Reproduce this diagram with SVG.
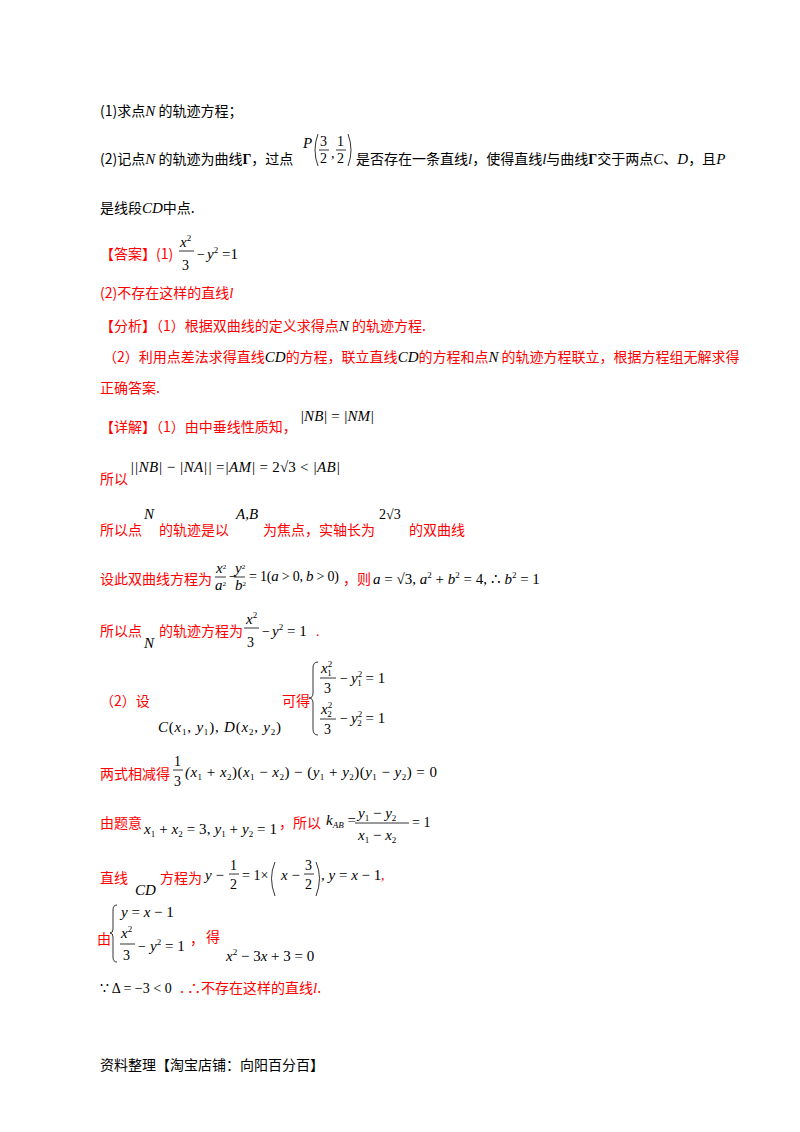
<svg xmlns="http://www.w3.org/2000/svg" width="800" height="1132" viewBox="0 0 800 1132">
<style>
text{font-family:"Liberation Serif","Noto Sans CJK SC",serif;font-size:14px;fill:#000}
.c{font-family:"Noto Sans CJK SC","Liberation Serif",sans-serif;font-size:14px}
.r{fill:#ff0000}
.m{font-family:"Liberation Serif",serif;font-style:italic;font-size:15px}
.n{font-family:"Liberation Serif",serif;font-style:normal}
.s{font-size:9px}
line,path{stroke:#000;stroke-width:0.8;fill:none}
</style>
<rect width="800" height="1132" fill="#fff"/>
<g id="q1"><text x="100" y="116" class="c">(1)求点<tspan class="m">N</tspan> 的轨迹方程；</text></g>
<g id="q2">
<text x="100" y="164" class="c">(2)记点<tspan class="m">N</tspan> 的轨迹为曲线<tspan class="n" font-weight="bold">Γ</tspan>，过点</text>
<text x="303" y="148" class="m">P</text>
<path d="M318 134 Q312 150 318 166"/><path d="M348 134 Q354 150 348 166"/>
<text x="320" y="146" class="n">3</text><line x1="319" y1="150" x2="329" y2="150"/><text x="320" y="163" class="n">2</text>
<text x="331" y="158" class="n">,</text>
<text x="337" y="146" class="n">1</text><line x1="336" y1="150" x2="346" y2="150"/><text x="337" y="163" class="n">2</text>
<text x="356" y="164" class="c">是否存在一条直线<tspan class="m">l</tspan>，使得直线<tspan class="m">l</tspan>与曲线<tspan class="n" font-weight="bold">Γ</tspan>交于两点<tspan class="m">C</tspan>、<tspan class="m">D</tspan>，且<tspan class="m" font-size="12">P</tspan></text>
<text x="100" y="213" class="c">是线段<tspan class="m">CD</tspan>中点.</text>
</g>
<g id="answer">
<text x="100" y="259" class="c r">【答案】(1)</text>
<text x="180" y="247" class="m">x<tspan class="s n" dy="-6">2</tspan></text><line x1="179" y1="251" x2="194" y2="251"/><text x="182" y="270" class="n">3</text>
<text x="197" y="259" class="n">−</text><text x="207" y="259" class="m">y<tspan class="s n" dy="-6">2</tspan><tspan class="n" dy="6"> =1</tspan></text>
<text x="100" y="298" class="c r">(2)不存在这样的直线<tspan class="m">l</tspan></text>
</g>
<g id="analysis">
<text x="100" y="331" class="c r">【分析】（1）根据双曲线的定义求得点<tspan class="m" fill="#000">N</tspan> 的轨迹方程.</text>
<text x="103" y="362" class="c r">（2）利用点差法求得直线<tspan class="m" fill="#000">CD</tspan>的方程，联立直线<tspan class="m" fill="#000">CD</tspan>的方程和点<tspan class="m" fill="#000">N</tspan> 的轨迹方程联立，根据方程组无解求得</text>
<text x="100" y="393" class="c r">正确答案.</text>
</g>
<g id="detail">
<text x="100" y="432" class="c r">【详解】（1）由中垂线性质知，</text>
<text x="300" y="421" class="m">|NB|<tspan class="n"> = </tspan>|NM|</text>
<text x="100" y="484" class="c r">所以</text>
<text x="130" y="472" class="m" textLength="210">||NB|<tspan class="n"> − </tspan>|NA||<tspan class="n"> =</tspan>|AM|<tspan class="n"> = 2√3 &lt; </tspan>|AB|</text>
<text x="100" y="535" class="c r">所以点</text><text x="144" y="519" class="m">N</text>
<text x="159" y="535" class="c r">的轨迹是以</text><text x="236" y="519" class="m">A,B</text>
<text x="263" y="535" class="c r">为焦点，实轴长为</text><text x="379" y="519" class="n" font-size="15">2√3</text>
<text x="409" y="535" class="c r">的双曲线</text>
<text x="100" y="584" class="c r">设此双曲线方程为</text>
<text x="216" y="573" class="m" font-size="10">x<tspan class="n" font-size="7" dy="-4">2</tspan></text><line x1="215" y1="577" x2="226" y2="577"/><text x="215" y="590" class="m" font-size="10">a<tspan class="n" font-size="7" dy="-4">2</tspan></text>
<text x="229" y="581" class="n" font-size="10">−</text>
<text x="235" y="573" class="m" font-size="10">y<tspan class="n" font-size="7" dy="-4">2</tspan></text><line x1="234" y1="577" x2="245" y2="577"/><text x="235" y="590" class="m" font-size="10">b<tspan class="n" font-size="7" dy="-4">2</tspan></text>
<text x="249" y="581" class="n" font-size="10" textLength="90">= 1(<tspan class="m" font-size="10">a</tspan> &gt; 0, <tspan class="m" font-size="10">b</tspan> &gt; 0)</text>
<text x="343" y="584" class="c r">，则</text>
<text x="373" y="584" class="m">a<tspan class="n"> = √3, </tspan>a<tspan class="n s" dy="-6">2</tspan><tspan class="n" dy="6"> + </tspan>b<tspan class="n s" dy="-6">2</tspan><tspan class="n" dy="6"> = 4, ∴ </tspan>b<tspan class="n s" dy="-6">2</tspan><tspan class="n" dy="6"> = 1</tspan></text>
<text x="100" y="636" class="c r">所以点</text><text x="144" y="648" class="m">N</text>
<text x="159" y="636" class="c r">的轨迹方程为</text>
<text x="246" y="624" class="m">x<tspan class="s n" dy="-6">2</tspan></text><line x1="244" y1="628" x2="259" y2="628"/><text x="247" y="647" class="n">3</text>
<text x="262" y="636" class="n">−</text><text x="272" y="636" class="m">y<tspan class="s n" dy="-6">2</tspan><tspan class="n" dy="6"> = 1</tspan></text>
<text x="316" y="636" class="r n">.</text>
</g>
<g id="part2">
<text x="100" y="706" class="c r">（2）设</text>
<text x="158" y="732" class="m" textLength="123">C<tspan class="n">(</tspan>x<tspan class="n s" dy="3">1</tspan><tspan class="n" dy="-3">, </tspan>y<tspan class="n s" dy="3">1</tspan><tspan class="n" dy="-3">), </tspan>D<tspan class="n">(</tspan>x<tspan class="n s" dy="3">2</tspan><tspan class="n" dy="-3">, </tspan>y<tspan class="n s" dy="3">2</tspan><tspan class="n" dy="-3">)</tspan></text>
<text x="282" y="706" class="c r">可得</text>
<path d="M318 662 Q313 662 313 668 L313 693 Q313 698 309 698 Q313 698 313 703 L313 729 Q313 735 318 735"/>
<text x="321" y="673" class="m">x<tspan class="n s" dy="-6">2</tspan><tspan class="n s" dx="-5" dy="9">1</tspan></text><line x1="320" y1="678" x2="336" y2="678"/><text x="324" y="693" class="n">3</text>
<text x="340" y="683" class="n">−</text><text x="351" y="683" class="m">y<tspan class="n s" dy="-6">2</tspan><tspan class="n s" dx="-5" dy="9">1</tspan><tspan class="n" dy="-3"> = 1</tspan></text>
<text x="321" y="714" class="m">x<tspan class="n s" dy="-6">2</tspan><tspan class="n s" dx="-5" dy="9">2</tspan></text><line x1="320" y1="719" x2="336" y2="719"/><text x="324" y="734" class="n">3</text>
<text x="340" y="723" class="n">−</text><text x="351" y="723" class="m">y<tspan class="n s" dy="-6">2</tspan><tspan class="n s" dx="-5" dy="9">2</tspan><tspan class="n" dy="-3"> = 1</tspan></text>
<text x="100" y="779" class="c r">两式相减得</text>
<text x="174" y="766" class="n" font-size="15">1</text><line x1="173" y1="770" x2="183" y2="770"/><text x="174" y="786" class="n" font-size="15">3</text>
<text x="185" y="777" class="m" textLength="252">(x<tspan class="n s" dy="3">1</tspan><tspan class="n" dy="-3"> + </tspan>x<tspan class="n s" dy="3">2</tspan><tspan class="n" dy="-3">)(</tspan>x<tspan class="n s" dy="3">1</tspan><tspan class="n" dy="-3"> − </tspan>x<tspan class="n s" dy="3">2</tspan><tspan class="n" dy="-3">) − (</tspan>y<tspan class="n s" dy="3">1</tspan><tspan class="n" dy="-3"> + </tspan>y<tspan class="n s" dy="3">2</tspan><tspan class="n" dy="-3">)(</tspan>y<tspan class="n s" dy="3">1</tspan><tspan class="n" dy="-3"> − </tspan>y<tspan class="n s" dy="3">2</tspan><tspan class="n" dy="-3">) = 0</tspan></text>
<text x="100" y="828" class="c r">由题意</text>
<text x="144" y="834" class="m" textLength="133">x<tspan class="n s" dy="3">1</tspan><tspan class="n" dy="-3"> + </tspan>x<tspan class="n s" dy="3">2</tspan><tspan class="n" dy="-3"> = 3, </tspan>y<tspan class="n s" dy="3">1</tspan><tspan class="n" dy="-3"> + </tspan>y<tspan class="n s" dy="3">2</tspan><tspan class="n" dy="-3"> = 1</tspan></text>
<text x="279" y="828" class="c r">，所以</text>
<text x="326" y="825" class="m">k<tspan class="s" dy="3">AB</tspan><tspan class="n" dy="-3"> = </tspan></text>
<text x="358" y="818" class="m">y<tspan class="n s" dy="3">1</tspan><tspan class="n" dy="-3"> − </tspan>y<tspan class="n s" dy="3">2</tspan></text><line x1="355" y1="823" x2="409" y2="823"/>
<text x="358" y="840" class="m">x<tspan class="n s" dy="3">1</tspan><tspan class="n" dy="-3"> − </tspan>x<tspan class="n s" dy="3">2</tspan></text>
<text x="412" y="827" class="n" font-size="15">= 1</text>
<text x="100" y="883" class="c r">直线</text><text x="135" y="895" class="m">CD</text>
<text x="160" y="883" class="c r">方程为</text>
<text x="205" y="880" class="m">y<tspan class="n"> − </tspan></text>
<text x="230" y="870" class="n" font-size="15">1</text><line x1="229" y1="874" x2="239" y2="874"/><text x="230" y="889" class="n" font-size="15">2</text>
<text x="242" y="880" class="n" font-size="15">= 1×</text>
<path d="M275 862 Q268 878 275 896"/><text x="281" y="880" class="m">x<tspan class="n"> − </tspan></text>
<text x="305" y="870" class="n" font-size="15">3</text><line x1="304" y1="874" x2="314" y2="874"/><text x="305" y="889" class="n" font-size="15">2</text>
<path d="M316 862 Q323 878 316 896"/>
<text x="321" y="880" class="m"><tspan class="n">, </tspan>y<tspan class="n"> = </tspan>x<tspan class="n"> − 1</tspan></text>
<text x="381" y="880" class="r n">,</text>
<text x="97" y="944" class="c r">由</text>
<path d="M117 905 Q113 905 113 910 L113 929 Q113 933 110 933 Q113 933 113 937 L113 957 Q113 962 117 962"/>
<text x="121" y="917" class="m">y<tspan class="n"> = </tspan>x<tspan class="n"> − 1</tspan></text>
<text x="121" y="938" class="m">x<tspan class="s n" dy="-6">2</tspan></text><line x1="120" y1="944" x2="135" y2="944"/><text x="123" y="960" class="n" font-size="15">3</text>
<text x="138" y="951" class="n">−</text><text x="150" y="951" class="m">y<tspan class="s n" dy="-6">2</tspan><tspan class="n" dy="6"> = 1</tspan></text>
<text x="190" y="944" class="c r">，</text>
<text x="206" y="942" class="c r">得</text>
<text x="226" y="961" class="m">x<tspan class="s n" dy="-6">2</tspan><tspan class="n" dy="6"> − 3</tspan>x<tspan class="n"> + 3 = 0</tspan></text>
<text x="100" y="993" class="n" font-size="15">∵ Δ = −3 &lt; 0</text>
<text x="180" y="993" class="c r">.  ∴不存在这样的直线<tspan class="m">l</tspan>.</text>
</g>
<g id="footer"><text x="100" y="1070" class="c">资料整理【淘宝店铺：向阳百分百】</text></g>
</svg>
